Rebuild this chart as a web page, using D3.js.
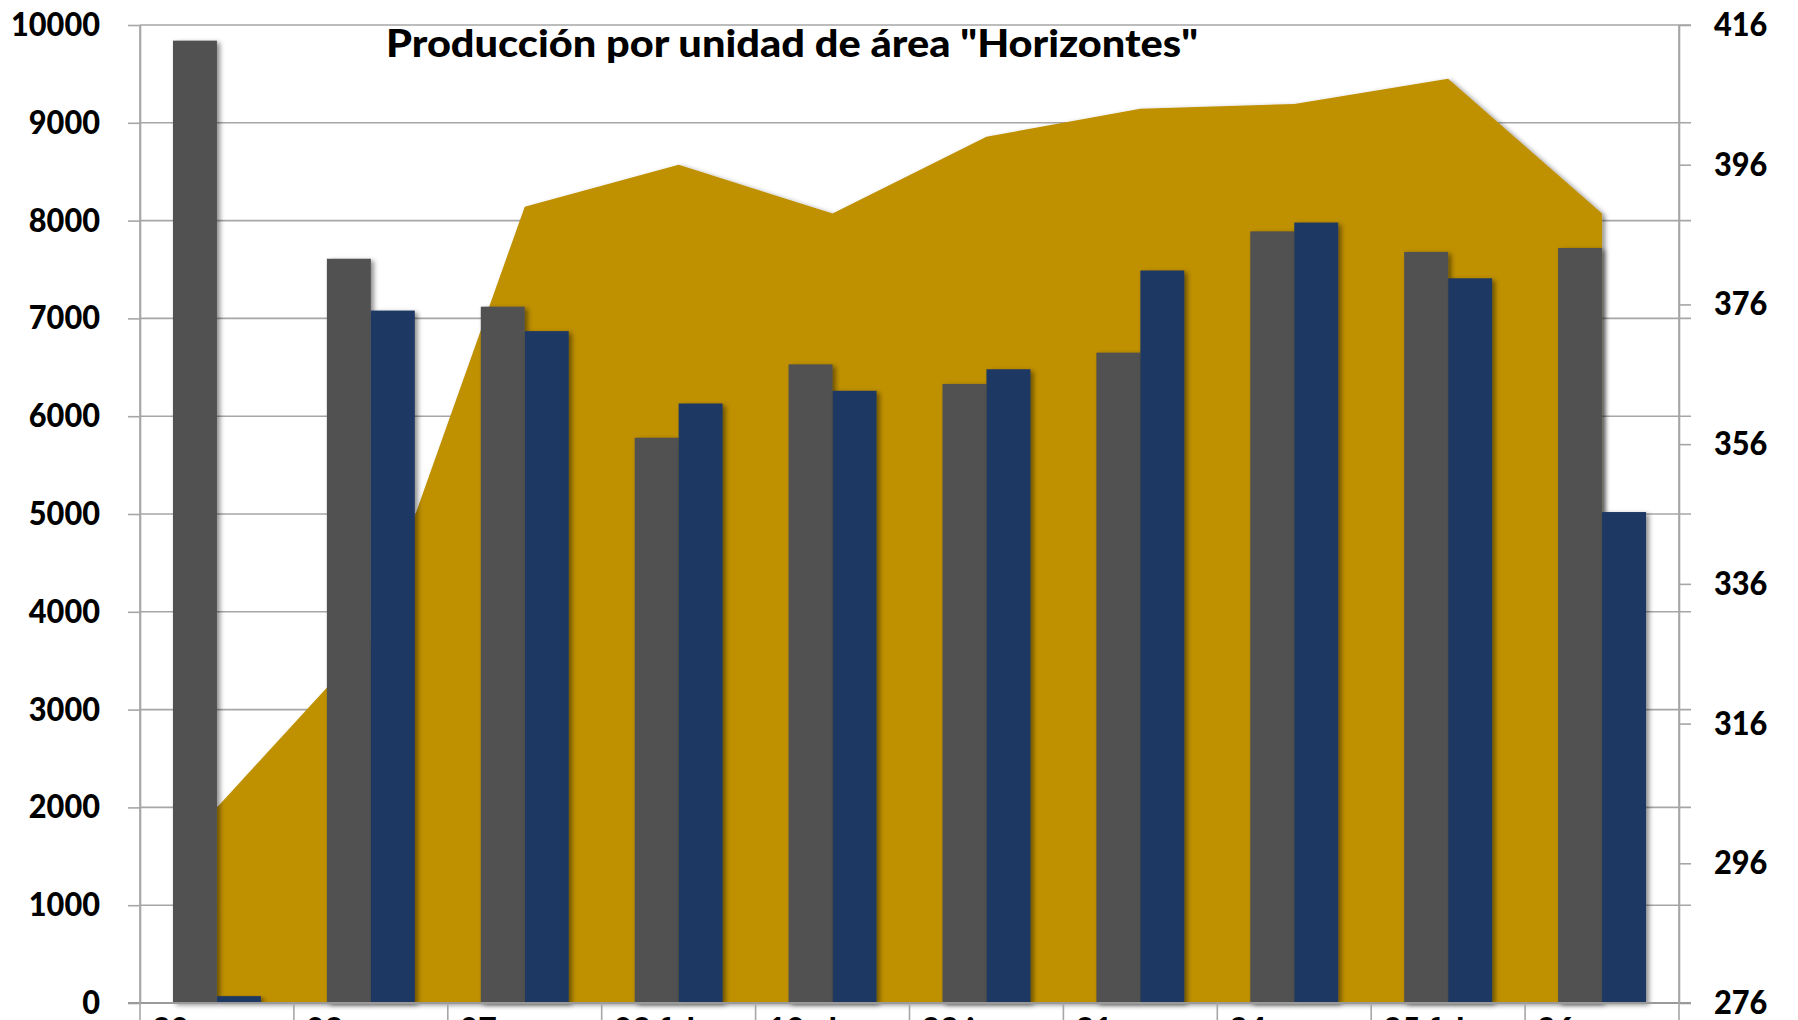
<!DOCTYPE html>
<html>
<head>
<meta charset="utf-8">
<script src="https://cdn.jsdelivr.net/npm/d3@7/dist/d3.min.js"></script>
<style>
  html, body { margin: 0; padding: 0; background: #ffffff; overflow: hidden; }
  svg { display: block; }
  text { font-family: Lato, "Open Sans", "DejaVu Sans", sans-serif; font-weight: 900; fill: #000; }
</style>
</head>
<body>
<svg id="chart" width="1798" height="1020"></svg>
<script>
// Sampling dates (category axis)
const categories = ["30 nov", "03 ene", "07 mar", "03 feb", "10 abr", "23 jun", "31 ene", "24 ene", "25 feb", "26 ene"];

// Production per unit of area, left axis
const seriesGray = [9840, 7610, 7120, 5780, 6530, 6330, 6650, 7890, 7680, 7720];
const seriesBlue = [70, 7080, 6870, 6130, 6260, 6480, 7490, 7980, 7410, 5020];

// Area series, right axis
const seriesArea = [304, 328, 390, 396, 389, 400, 404, 404.7, 408.3, 389];

const leftTicks = [0, 1000, 2000, 3000, 4000, 5000, 6000, 7000, 8000, 9000, 10000];
const rightTicks = [276, 296, 316, 336, 356, 376, 396, 416];

const titleText = "Producción por unidad de área \"Horizontes\"";

const colors = { gray: "#515151", blue: "#1f3864", gold: "#bf9000", grid: "#a6a6a6" };

const svg = d3.select("#chart");
const plot = { left: 140, right: 1679, top: 25, bottom: 1003 };

// Drop shadow used by bars and the area
const defs = svg.append("defs");
defs.append("filter").attr("id", "shadow")
  .attr("x", "-20%").attr("y", "-5%").attr("width", "150%").attr("height", "115%")
  .append("feDropShadow")
  .attr("dx", 3).attr("dy", 2).attr("stdDeviation", 2.5)
  .attr("flood-color", "#000").attr("flood-opacity", 0.45);

const x = d3.scaleBand().domain(categories).range([plot.left, plot.right]).padding(0);
const xSub = d3.scaleBand().domain(["gray", "blue"]).range([0, x.bandwidth()])
  .paddingInner(0).paddingOuter(0.75);
const yL = d3.scaleLinear().domain([0, 10000]).range([plot.bottom, plot.top]);
const yR = d3.scaleLinear().domain([276, 416]).range([plot.bottom, plot.top]);

// Horizontal gridlines
svg.append("g").selectAll("line").data(leftTicks.filter(d => d > 0)).join("line")
  .attr("x1", plot.left).attr("x2", plot.right + 12)
  .attr("y1", d => yL(d)).attr("y2", d => yL(d))
  .attr("stroke", colors.grid).attr("stroke-width", 1.6);

// Area (right axis)
const center = d => x(d) + x.bandwidth() / 2;
const area = d3.area()
  .x((d, i) => center(categories[i]))
  .y0(yR(276))
  .y1(d => yR(d));
svg.append("path").datum(seriesArea)
  .attr("d", area)
  .attr("fill", colors.gold)
  .attr("filter", "url(#shadow)");

// Clustered bars
const groups = svg.append("g").selectAll("g").data(categories).join("g")
  .attr("transform", d => `translate(${x(d)},0)`);
groups.append("rect")
  .attr("x", xSub("gray")).attr("width", xSub.bandwidth())
  .attr("y", (d, i) => yL(seriesGray[i]))
  .attr("height", (d, i) => yL(0) - yL(seriesGray[i]))
  .attr("fill", colors.gray).attr("filter", "url(#shadow)");
groups.append("rect")
  .attr("x", xSub("blue")).attr("width", xSub.bandwidth())
  .attr("y", (d, i) => yL(seriesBlue[i]))
  .attr("height", (d, i) => yL(0) - yL(seriesBlue[i]))
  .attr("fill", colors.blue).attr("filter", "url(#shadow)");

// Left axis
const axL = svg.append("g").attr("transform", `translate(${plot.left},0)`)
  .call(d3.axisLeft(yL).tickValues(leftTicks).tickSize(12).tickSizeOuter(0).tickPadding(28).tickFormat(d3.format("d")));
// Right axis
const axR = svg.append("g").attr("transform", `translate(${plot.right},0)`)
  .call(d3.axisRight(yR).tickValues(rightTicks).tickSize(12).tickSizeOuter(0).tickPadding(23).tickFormat(d3.format("d")));
[axL, axR].forEach(ax => {
  ax.select(".domain").attr("stroke", colors.grid).attr("stroke-width", 1.6);
  ax.selectAll(".tick line").attr("stroke", colors.grid).attr("stroke-width", 1.6);
  ax.selectAll(".tick text").attr("font-size", 33).attr("font-family", null).attr("fill", "#000");
});
// Slightly condensed digits
[axL, axR].forEach(ax => {
  ax.selectAll(".tick text").each(function () {
    const w = this.getComputedTextLength();
    d3.select(this).attr("textLength", w * 0.93).attr("lengthAdjust", "spacingAndGlyphs");
  });
});

// Category axis: baseline, boundary ticks and labels
svg.append("line")
  .attr("x1", plot.left - 12).attr("x2", plot.right + 12)
  .attr("y1", plot.bottom).attr("y2", plot.bottom)
  .attr("stroke", "#9a9a9a").attr("stroke-width", 2);
const bounds = categories.map(c => x(c)).concat([plot.right]);
svg.append("g").selectAll("line").data(bounds).join("line")
  .attr("x1", d => d).attr("x2", d => d)
  .attr("y1", (d, i) => (i === 0 || i === bounds.length - 1) ? plot.top : plot.bottom)
  .attr("y2", plot.bottom + 60)
  .attr("stroke", colors.grid).attr("stroke-width", 1.6);
svg.append("g").selectAll("text").data(categories).join("text")
  .attr("x", d => x(d) + 12)
  .attr("y", plot.bottom + 38)
  .attr("font-size", 32)
  .text(d => d);

// Title
svg.append("text")
  .attr("x", 386).attr("y", 57)
  .attr("font-size", 38)
  .attr("textLength", 812).attr("lengthAdjust", "spacingAndGlyphs")
  .text(titleText);
</script>
</body>
</html>
